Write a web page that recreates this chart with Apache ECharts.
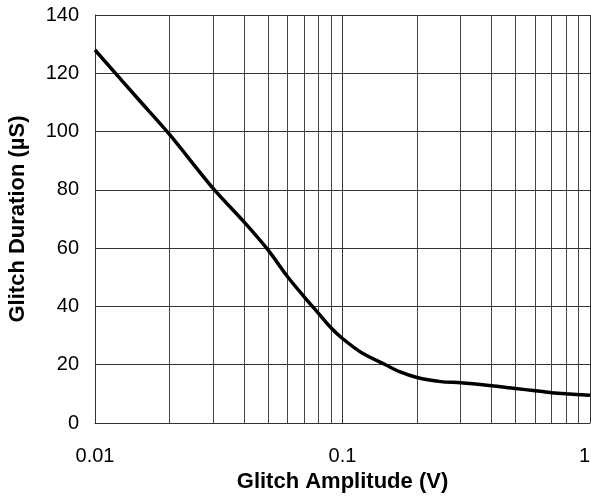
<!DOCTYPE html>
<html><head><meta charset="utf-8">
<script src="https://cdn.jsdelivr.net/npm/echarts@6/dist/echarts.min.js"></script>
<style>html,body{margin:0;padding:0;background:#fff}#c{width:591px;height:504px}</style>
</head><body><div id="c"></div>
<script>
const amplitude = [0.01, 0.015, 0.02, 0.03, 0.04, 0.05, 0.06, 0.07, 0.08, 0.09, 0.1, 0.12, 0.15, 0.17, 0.2, 0.25, 0.3, 0.4, 0.5, 0.6, 0.7, 0.8, 1];
const duration  = [128, 111, 99, 80.5, 69, 59.4, 50.2, 43.3, 37.6, 32.6, 29, 24, 19.9, 17.6, 15.6, 14.2, 13.8, 12.8, 11.8, 11.1, 10.4, 10, 9.5];
const minorGrid = [0.02, 0.03, 0.04, 0.05, 0.06, 0.07, 0.08, 0.09, 0.2, 0.3, 0.4, 0.5, 0.6, 0.7, 0.8, 0.9];
const xTicks = [0.01, 0.1, 1];
const yTicks = [0, 20, 40, 60, 80, 100, 120, 140];

const font = 'Liberation Sans, Arial, sans-serif';
const chart = echarts.init(document.getElementById('c'), null, {renderer: 'canvas'});
chart.setOption({
  animation: false,
  backgroundColor: '#fff',
  grid: {left: 95, right: 1, top: 15, bottom: 81, containLabel: false, outerBoundsMode: 'none'},
  xAxis: {
    type: 'log', logBase: 10, min: xTicks[0], max: xTicks[xTicks.length - 1],
    name: 'Glitch Amplitude (V)', nameLocation: 'middle', nameGap: 43,
    nameTextStyle: {fontFamily: font, fontSize: 22, fontWeight: 'bold', color: '#000'},
    axisLine: {show: true, lineStyle: {color: '#333', width: 1}},
    axisTick: {show: false},
    axisLabel: {fontFamily: font, fontSize: 20, color: '#000', margin: 23,
      alignMaxLabel: 'right',
      formatter: v => String(v)},
    splitLine: {show: true, lineStyle: {color: '#333', width: 1}},
    minorTick: {show: false}, minorSplitLine: {show: false}
  },
  yAxis: {
    type: 'value', min: yTicks[0], max: yTicks[yTicks.length - 1], interval: 20,
    name: 'Glitch Duration (µS)', nameLocation: 'middle', nameGap: 66,
    nameTextStyle: {fontFamily: font, fontSize: 22, fontWeight: 'bold', color: '#000'},
    axisLine: {show: true, lineStyle: {color: '#333', width: 1}},
    axisTick: {show: false},
    axisLabel: {fontFamily: font, fontSize: 20, color: '#000', margin: 16},
    splitLine: {show: true, lineStyle: {color: '#333', width: 1}}
  },
  series: [
    {
      type: 'line', data: [], silent: true,
      markLine: {
        silent: true, symbol: ['none', 'none'], label: {show: false},
        lineStyle: {color: '#444', width: 1, type: 'solid'},
        data: minorGrid.map(v => ({xAxis: v}))
      }
    },
    {
      type: 'line', smooth: 0.3, showSymbol: false,
      data: amplitude.map((a, i) => [a, duration[i]]),
      lineStyle: {color: '#000', width: 3.5},
      z: 5
    }
  ]
});
</script></body></html>
